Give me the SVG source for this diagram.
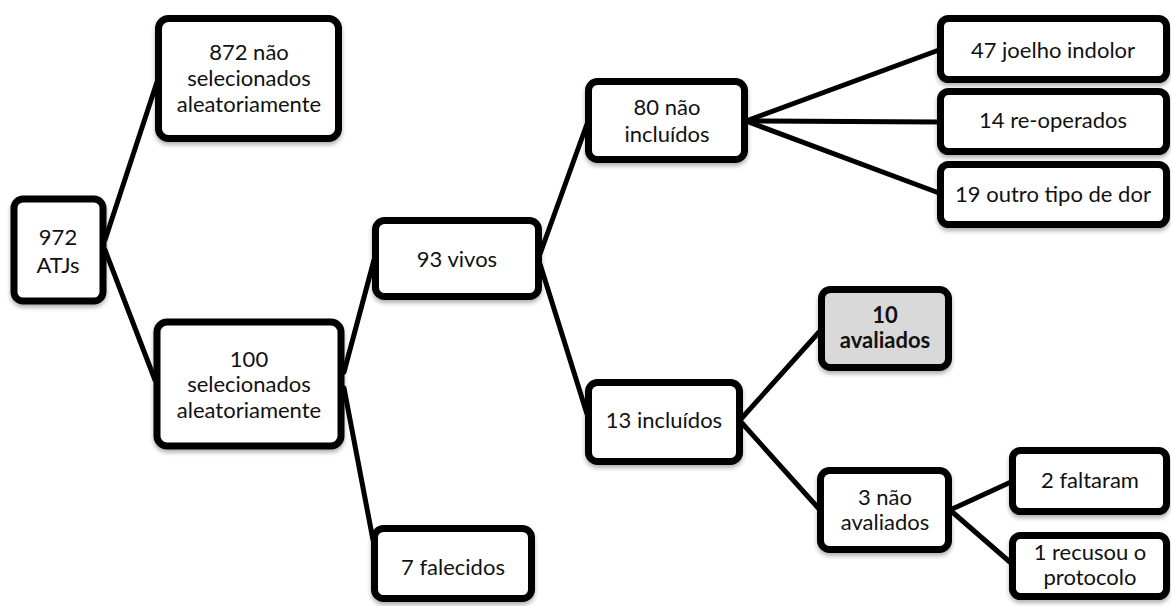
<svg xmlns="http://www.w3.org/2000/svg" width="1171" height="606" viewBox="0 0 1171 606">
<defs>
<filter id="sh" x="-10%" y="-10%" width="120%" height="130%">
<feDropShadow dx="0" dy="3" stdDeviation="2" flood-color="#000" flood-opacity="0.3"/>
</filter>
</defs>
<style>
.box{fill:#fff;stroke:#000;stroke-width:7;filter:url(#sh)}
.gray{fill:#d9d9d9}
.t{font-family:Lato,"Open Sans","Liberation Sans",sans-serif;font-size:22px;fill:#111;text-anchor:middle}
.b{font-weight:bold}
.c line{stroke:#000;stroke-width:5;stroke-linecap:round}
</style>
<rect width="1171" height="606" fill="#fff"/>
<g class="c" id="connectors">
<line x1="105" y1="240" x2="157" y2="82"/>
<line x1="105" y1="250" x2="155" y2="380"/>
<line x1="344" y1="372" x2="374" y2="260"/>
<line x1="344" y1="388" x2="373" y2="540"/>
<line x1="540" y1="254" x2="587" y2="124"/>
<line x1="540" y1="264" x2="587" y2="414"/>
<line x1="746" y1="121" x2="939" y2="50"/>
<line x1="746" y1="121" x2="939" y2="122"/>
<line x1="746" y1="121" x2="939" y2="193"/>
<line x1="741" y1="419" x2="820" y2="331"/>
<line x1="741" y1="422" x2="820" y2="510"/>
<line x1="950" y1="510" x2="1011" y2="482"/>
<line x1="950" y1="510" x2="1011" y2="563"/>
</g>
<g id="n972"><rect class="box" x="14" y="199" width="89" height="102" rx="9"/>
<text class="t" x="58" y="245">972</text><text class="t" x="58" y="273">ATJs</text></g>
<g id="n872"><rect class="box" x="158.5" y="18.5" width="180" height="120" rx="10"/>
<text class="t" x="249" y="60">872 não</text><text class="t" x="249" y="86">selecionados</text><text class="t" x="249" y="112">aleatoriamente</text></g>
<g id="n100"><rect class="box" x="157" y="322" width="184" height="124" rx="10"/>
<text class="t" x="249" y="367">100</text><text class="t" x="249" y="392">selecionados</text><text class="t" x="249" y="418">aleatoriamente</text></g>
<g id="n93"><rect class="box" x="375.5" y="220.5" width="163" height="76" rx="9"/>
<text class="t" x="457" y="267">93 vivos</text></g>
<g id="n7"><rect class="box" x="374.5" y="528.5" width="157" height="70" rx="9"/>
<text class="t" x="453" y="575">7 falecidos</text></g>
<g id="n80"><rect class="box" x="588.5" y="81.5" width="156" height="78" rx="9"/>
<text class="t" x="667" y="115">80 não</text><text class="t" x="667" y="142">incluídos</text></g>
<g id="n13"><rect class="box" x="588.5" y="382.5" width="151" height="79" rx="9"/>
<text class="t" x="664" y="428">13 incluídos</text></g>
<g id="n10"><rect class="box gray" x="821.5" y="289.5" width="127" height="78" rx="9"/>
<text class="t b" x="885" y="323">10</text><text class="t b" x="885" y="348">avaliados</text></g>
<g id="n3"><rect class="box" x="820.5" y="470.5" width="128" height="79" rx="9"/>
<text class="t" x="885" y="505">3 não</text><text class="t" x="885" y="530">avaliados</text></g>
<g id="n47"><rect class="box" x="940.5" y="18.5" width="226" height="61" rx="8"/>
<text class="t" x="1053" y="58">47 joelho indolor</text></g>
<g id="n14"><rect class="box" x="940.5" y="91.5" width="226" height="60" rx="8"/>
<text class="t" x="1053" y="128">14 re-operados</text></g>
<g id="n19"><rect class="box" x="940.5" y="164.5" width="226" height="60" rx="8"/>
<text class="t" x="1053" y="202">19 outro tipo de dor</text></g>
<g id="n2"><rect class="box" x="1012.5" y="450.5" width="154" height="61" rx="8"/>
<text class="t" x="1090" y="488">2 faltaram</text></g>
<g id="n1"><rect class="box" x="1012.5" y="535.5" width="154" height="61" rx="8"/>
<text class="t" x="1090" y="560">1 recusou o</text><text class="t" x="1090" y="585">protocolo</text></g>
</svg>
